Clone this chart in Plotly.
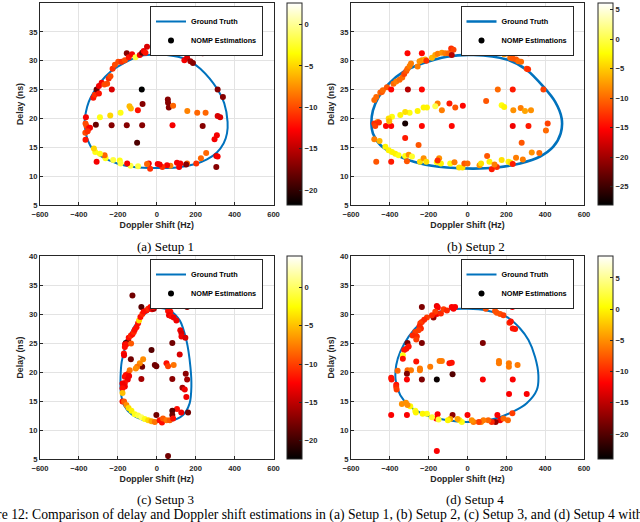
"""Delay / Doppler estimates against the ground truth trajectory for four setups."""

import plotly.graph_objects as go


# ===== Ground truth trajectories (Doppler in Hz, delay in ns) =====
GT1_DOPPLER = [0, 87, 156, 224, 313, 347, 364, 361, 344, 309, 258, 198, 104, 0, -118, -203,
               -289, -332, -354, -366, -371, -364, -349, -323, -289, -238, -169, -84, 0]
GT1_DELAY = [31.06, 30.8, 30.2, 28.6, 25.0, 22.6, 19.4, 17.4, 15.7, 14.1, 12.9, 12.1, 11.5, 11.4,
             11.6, 12.2, 13.5, 14.8, 16.2, 17.7, 19.4, 21.1, 22.9, 24.6, 26.3, 28.1, 29.6, 30.8, 31.06]

GT2_DOPPLER = [30, 202, 305, 391, 451, 485, 480, 442, 374, 271, 151, 31, -106, -243, -363,
               -449, -487, -495, -487, -458, -406, -329, -226, -106, 30]
GT2_DELAY = [31.0, 30.2, 28.4, 25.5, 22.9, 20.0, 17.4, 15.1, 13.4, 12.2, 11.5, 11.3, 11.5, 12.2,
             13.6, 15.4, 17.4, 19.1, 21.4, 23.7, 26.0, 28.1, 29.6, 30.7, 31.0]

GT3_DOPPLER = [-2, 67, 118, 152, 173, 178, 169, 135, 67, -2, -70, -130, -169, -185, -186, -180,
               -156, -121, -70, -2]
GT3_DELAY = [31.05, 30.6, 28.9, 25.5, 20.9, 17.5, 14.6, 12.6, 11.5, 11.4, 11.7, 12.7, 14.3, 16.6,
             19.2, 21.8, 24.9, 27.5, 29.8, 31.05]

GT4_DOPPLER = [0, 99, 202, 271, 314, 348, 365, 357, 305, 237, 134, 0, -106, -209, -295, -346,
               -370, -367, -346, -303, -243, -175, -89, 0]
GT4_DELAY = [30.9, 30.6, 29.5, 27.5, 25.5, 22.6, 19.5, 16.9, 14.6, 13.2, 11.9, 11.4, 11.7, 12.5,
             14.0, 16.0, 18.6, 21.2, 23.5, 26.1, 28.4, 30.0, 30.8, 30.9]


# ===== NOMP estimations: (Doppler Hz, delay ns, power dB) =====
EST1 = [
    (-313, 18.9, -18), (-366, 19.1, -10), (-361, 18.7, -10), (-367, 17.5, -10), (-366, 16.3, -12),
    (-364, 20.2, -13), (-350, 18.3, -12), (-343, 18.4, -13), (-355, 17.8, -11),
    (-326, 23.6, -12), (-318, 24.1, -11), (-309, 25.0, -18), (-297, 24.3, -12), (-297, 25.6, -13),
    (-283, 26.2, -13), (-269, 25.9, -10), (-255, 26.0, -10), (-247, 26.9, -11), (-238, 27.3, -10),
    (-231, 25.0, -14), (-227, 28.6, -11), (-215, 29.3, -10), (-198, 29.8, -10), (-181, 29.8, -11),
    (-164, 30.1, -10), (-154, 31.3, -17), (-144, 30.6, -12), (-127, 31.1, -13), (-109, 30.6, -2),
    (-87, 31.0, -13), (-75, 31.4, -18), (-67, 31.7, -13), (-58, 31.4, -12), (-50, 32.4, -14),
    (79, 32.3, -12), (99, 31.9, -12), (142, 30.1, -13), (156, 30.5, -14), (173, 29.9, -16),
    (186, 29.6, -17), (236, 31.3, -16),
    (313, 25.0, -17), (340, 23.7, -17), (313, 20.4, -14), (326, 20.2, -14), (309, 17.1, -13),
    (297, 16.4, -13), (306, 13.5, -14), (313, 13.4, -13), (306, 11.6, -17), (254, 14.0, -9),
    (227, 13.1, -9), (203, 12.2, -11),
    (156, 12.2, -9), (151, 12.0, -17), (121, 12.2, -13), (104, 12.3, -13), (115, 11.6, -13),
    (70, 11.8, -8), (53, 11.9, -13), (29, 11.6, -11), (15, 12.0, -13), (5, 12.1, -13),
    (-34, 11.3, -11), (-41, 12.2, -13), (-50, 12.1, -9), (-96, 11.7, -2), (-135, 11.8, -2),
    (-152, 12.2, -13), (-190, 12.7, -3), (-186, 12.2, -2), (-224, 12.8, -2), (-263, 13.1, -3),
    (-268, 13.6, -9), (-292, 13.9, -3), (-316, 14.2, -3), (-323, 14.8, -5), (-309, 12.5, -13),
    (-77, 25.0, -21.8), (-73, 22.5, -17), (-97, 21.4, -12), (-140, 22.1, -6), (-133, 21.7, -6),
    (-186, 21.0, -3), (-239, 20.5, -5), (-292, 20.2, -3), (57, 23.3, -17), (58, 22.7, -17),
    (62, 21.9, -17), (84, 22.2, -9), (157, 21.3, -8), (208, 21.0, -9), (251, 21.0, -9),
    (236, 18.7, -17), (81, 18.8, -13), (-75, 18.8, -17), (-154, 18.8, -17), (-232, 18.8, -17),
    (-101, 15.8, -19),
]

EST2 = [
    (-321, 19.1, -27),
    (-480, 23.2, -10), (-470, 23.7, -10), (-449, 24.5, -10), (-441, 24.6, -11), (-436, 24.9, -10),
    (-415, 25.4, -11), (-381, 26.0, -10), (-367, 26.4, -9), (-350, 26.7, -10), (-336, 27.1, -10),
    (-326, 27.7, -12), (-315, 28.2, -11), (-309, 28.6, -10), (-298, 29.1, -9), (-291, 29.5, -9),
    (-257, 29.0, -9), (-247, 29.9, -8), (-235, 30.1, -8), (-218, 30.2, -7), (-212, 30.0, -13),
    (-183, 30.5, -6), (-166, 31.0, -7), (-153, 31.2, -9), (-132, 31.4, -8), (-115, 31.3, -9),
    (-98, 31.3, -10), (-84, 32.1, -13), (-72, 31.9, -12), (-81, 31.0, -19), (-309, 31.3, -15),
    (-235, 31.3, -15),
    (189, 31.1, -8), (220, 30.5, -10), (233, 30.4, -11), (250, 30.2, -11), (262, 29.9, -10),
    (276, 29.8, -10), (305, 28.6, -12), (312, 28.5, -13), (314, 31.3, -14), (391, 25.0, -12),
    (413, 19.1, -12), (404, 17.9, -10), (370, 14.0, -10), (331, 14.1, -8),
    (-307, 25.0, -19), (-235, 25.0, -15), (-393, 25.0, -15), (-393, 18.7, -15), (-420, 18.7, -15),
    (-235, 18.7, -15), (-81, 18.7, -15), (233, 18.7, -16), (314, 18.7, -14), (233, 25.0, -14),
    (156, 25.0, -10), (96, 23.0, -11), (-24, 22.2, -15), (-63, 21.9, -11), (-93, 22.6, -14),
    (-132, 21.4, -9), (-154, 22.6, -9), (-166, 22.1, 0), (-209, 21.9, -3), (-226, 21.9, -3),
    (-257, 21.3, -3), (-298, 21.0, -2), (-321, 21.1, -4), (-346, 20.6, -3), (-389, 20.3, -2),
    (-406, 20.0, -4), (-403, 19.5, -6), (-463, 19.4, -9), (-480, 19.1, -13), (-475, 18.7, -12),
    (-456, 19.3, -13), (176, 22.3, -2), (189, 22.0, -3), (236, 21.4, -8), (274, 21.8, -9),
    (296, 21.3, -7), (327, 21.4, -8), (-321, 16.6, -14), (-252, 15.4, -11), (279, 15.8, -11),
    (-480, 16.4, -9), (-453, 16.1, -6), (-423, 15.1, -3), (-406, 14.5, -3), (-389, 14.2, -3),
    (-372, 13.9, -3), (-355, 13.6, -2), (-321, 13.5, -2), (-303, 13.7, -8), (-286, 13.4, -1),
    (-312, 12.6, -11), (-245, 12.5, -4), (-226, 13.1, -8), (-212, 12.5, -4), (-158, 12.4, -2),
    (-146, 13.1, -8), (-137, 12.2, -3), (-154, 12.7, -13), (-89, 12.2, -2), (-67, 12.4, -9),
    (-43, 11.5, -4), (-26, 11.5, -4), (-16, 12.2, -11), (0, 12.2, -10), (62, 11.9, -8),
    (70, 12.2, -4), (101, 13.5, -11), (113, 12.5, -3), (125, 11.2, -14), (151, 11.6, -13),
    (139, 12.0, -9), (176, 12.8, -4), (211, 12.5, -3), (223, 12.3, -4), (233, 12.1, -14),
    (250, 13.2, -9), (285, 12.9, -9), (-470, 12.5, -11), (-393, 12.5, -14),
]

EST3 = [
    (-159, 25.0, -22.4),
    (-125, 33.2, -18), (-79, 31.2, -19), (156, 31.2, -17), (58, 5.5, -18), (-147, 25.3, -19),
    (-163, 24.8, -13), (-27, 23.8, -19), (-10, 21.2, -18), (-2, 21.0, -18), (-133, 22.2, -18),
    (-75, 20.9, -18), (-79, 18.8, -16), (80, 25.0, -18), (80, 18.8, -17), (118, 23.0, -14),
    (149, 19.7, -17), (156, 18.7, -16), (132, 17.3, -16), (144, 17.0, -13), (152, 15.7, -13),
    (161, 13.0, -18), (126, 13.0, -13), (104, 13.6, -12), (80, 13.3, -19), (80, 12.6, -18),
    (-2, 12.6, -18),
    (50, 21.5, -12), (58, 21.0, -10), (87, 21.2, -8), (-70, 22.2, -7), (-87, 21.5, -7),
    (-101, 20.9, -8), (-108, 20.6, -7), (-139, 20.3, -8), (-147, 19.7, -9), (-159, 19.5, -12),
    (-164, 19.2, -12), (-142, 19.3, -13), (-149, 18.7, -13), (-164, 18.1, -12), (-164, 17.5, -13),
    (-176, 18.0, -13), (-176, 17.2, -12), (-176, 16.4, -5), (-176, 14.9, -12), (-168, 14.9, -9),
    (-156, 14.3, -7), (-145, 13.8, -4), (-130, 13.3, -3), (-113, 12.7, -2), (-96, 12.5, -1),
    (-79, 12.2, 0), (-62, 11.9, -2), (-44, 11.7, -4), (-27, 11.5, -6), (-10, 11.4, -8),
    (15, 11.7, -12), (27, 11.3, -12), (32, 12.0, -9), (50, 11.7, -8), (67, 11.7, -9), (84, 12.0, -12),
    (-169, 23.2, -12), (-168, 22.9, -13), (-164, 24.3, -12), (-156, 24.8, -12), (-144, 25.9, -12),
    (-133, 26.3, -11), (-125, 26.5, -12), (-118, 26.9, -11), (-113, 27.3, -12), (-104, 27.7, -12),
    (-96, 28.4, -12), (-91, 28.9, -4), (-84, 29.5, -12), (-74, 30.0, -11), (-67, 30.4, -12),
    (-53, 30.6, -12), (-44, 30.9, -11), (-32, 31.2, -12), (-24, 30.8, -13), (-15, 30.9, -16),
    (-19, 31.2, -12), (58, 30.5, -12), (70, 30.4, -12), (63, 29.8, -13), (75, 29.6, -12),
    (87, 29.4, -13), (101, 28.9, -13), (121, 27.2, -13), (127, 26.7, -14), (127, 26.1, -13),
    (147, 25.9, -14), (-132, 24.9, -9),
]

EST4 = [
    (-158, 18.7, -23.5),
    (-235, 31.2, -18), (-158, 31.4, -13), (-153, 31.1, -12), (-81, 31.2, -12), (-72, 30.9, -12),
    (-64, 31.2, -12), (-175, 29.4, -17), (-158, 30.0, -12), (-137, 30.1, -10), (-123, 30.8, -9),
    (-106, 30.6, -10), (-166, 30.4, -9), (-183, 29.8, -10), (-209, 29.4, -9), (-223, 29.0, -10),
    (-235, 28.6, -10), (-243, 28.4, -9), (-247, 27.9, -10), (-240, 27.5, -10), (-252, 27.2, -9),
    (-269, 26.9, -9), (-283, 26.3, -10), (-261, 26.1, -10), (-264, 25.6, -9), (-309, 25.0, -18),
    (-235, 25.0, -18), (79, 25.0, -18), (-303, 24.4, -11), (-315, 24.0, -11), (-326, 23.8, -11),
    (-333, 22.9, 1), (-333, 22.3, -11), (-360, 20.2, -7), (-309, 20.3, -7), (-291, 20.3, -6),
    (-312, 19.7, -18), (-312, 18.7, -12), (-264, 21.8, -11), (-245, 20.3, -6), (-245, 20.6, -6),
    (-192, 20.9, -6), (-144, 21.9, -6), (-132, 21.9, -6), (-93, 21.5, -11), (-81, 21.6, -11),
    (-77, 19.6, -20), (-235, 18.7, -18), (79, 18.7, -12), (-393, 19.0, -11), (-391, 18.7, -11),
    (-367, 17.8, -11), (-367, 17.4, -10), (-365, 17.0, -9), (162, 21.9, -6), (162, 21.5, -6),
    (213, 21.5, -6), (213, 20.9, -6), (258, 21.2, -6), (233, 18.7, -12), (214, 16.2, -12),
    (305, 16.2, -12), (231, 12.9, -9), (154, 12.6, -12), (208, 11.7, -7), (168, 11.7, -12),
    (185, 12.0, -7), (145, 11.4, -17), (125, 11.4, -10), (107, 11.7, -7), (70, 11.4, -6),
    (82, 11.7, -6), (58, 11.4, -9), (0, 12.6, -12), (31, 11.4, -6), (22, 11.7, -5), (-29, 11.4, 1),
    (-41, 11.7, 0), (-51, 11.9, -4), (-77, 12.6, -17), (-89, 11.9, -4), (-101, 11.7, 0),
    (-154, 12.7, -12), (-161, 12.0, -12), (-149, 11.8, 2), (-183, 12.2, 2), (-209, 12.8, 1),
    (-231, 12.8, 0), (-269, 13.3, 1), (-266, 13.0, 0), (-295, 14.1, 0), (-309, 14.3, -5),
    (-317, 14.7, -5), (-338, 14.5, -5), (-393, 12.6, -12), (-312, 12.6, -12), (-158, 6.4, -12),
    (231, 31.2, -12), (142, 30.5, -8), (151, 30.2, -8), (168, 30.0, -8), (185, 29.8, -9),
    (94, 30.9, -8), (216, 28.5, -10), (223, 28.7, -11), (233, 27.5, -11), (245, 27.4, -11),
]

# colour limits of each colorbar (dB)
POWER_LIMITS = [(-21.8, 2.6), (-28.1, 6.1), (-22.4, 4.1), (-24.0, 8.5)]
CAPTIONS = ["(a) Setup 1", "(b) Setup 2", "(c) Setup 3", "(d) Setup 4"]
FIG_CAPTION = ("Figure 12: Comparison of delay and Doppler shift estimations in (a) Setup 1, "
               "(b) Setup 2, (c) Setup 3, and (d) Setup 4 with")


# ===== Styling =====
W, H = 640, 522
HOT = [[0.0, "rgb(0,0,0)"], [0.375, "rgb(255,0,0)"], [0.75, "rgb(255,255,0)"], [1.0, "rgb(255,255,255)"]]
LINE_BLUE = "#0072BD"
INK = "#262626"
SANS = "Liberation Sans, Arial, sans-serif"
SERIF = "Liberation Serif, Times New Roman, serif"

# pixel boxes of each axes: (left, right, top, bottom)
BOXES = [(40, 273.5, 3, 205), (351, 584, 3, 205), (40, 273.5, 256, 459), (351, 584, 256, 459)]
CAPTION_POS = [(165, 246), (476, 246), (165, 499), (475, 499)]


def px_x(v):
    """Pixel x -> paper fraction."""
    return v / W


def px_y(v):
    """Pixel y (from top) -> paper fraction."""
    return 1 - v / H


def _axis_style(title):
    return dict(
        title=dict(text=title, font=dict(family=SANS, size=8.8, color=INK, weight="bold"), standoff=3),
        showgrid=True, gridcolor="#e3e3e3", gridwidth=1, zeroline=False,
        showline=True, mirror=True, linecolor=INK, linewidth=1,
        ticks="inside", ticklen=3, tickcolor=INK,
        tickfont=dict(family=SANS, size=7.6, color=INK, weight="bold"),
    )


fig = go.Figure()

panels = [
    (GT1_DOPPLER, GT1_DELAY, EST1),
    (GT2_DOPPLER, GT2_DELAY, EST2),
    (GT3_DOPPLER, GT3_DELAY, EST3),
    (GT4_DOPPLER, GT4_DELAY, EST4),
]

layout = {}
annotations = []

for i, (gx, gy, est) in enumerate(panels):
    n = "" if i == 0 else str(i + 1)
    left, right, top, bottom = BOXES[i]
    cmin, cmax = POWER_LIMITS[i]

    fig.add_trace(go.Scatter(
        x=gx, y=gy, mode="lines", name="Ground Truth",
        line=dict(color=LINE_BLUE, width=2.6 if i == 1 else 2, shape="spline", smoothing=0.9),
        xaxis="x" + n, yaxis="y" + n, legend="legend" + n,
    ))
    fig.add_trace(go.Scatter(
        x=[e[0] for e in est], y=[e[1] for e in est], mode="markers", name="NOMP Estimations",
        marker=dict(color=[e[2] for e in est], coloraxis="coloraxis" + n, size=6, line=dict(width=0)),
        xaxis="x" + n, yaxis="y" + n, legend="legend" + n,
    ))

    xa = _axis_style("Doppler Shift (Hz)")
    xa.update(domain=[px_x(left), px_x(right)], anchor="y" + n, range=[-600, 600], dtick=200,
              ticklabelstandoff=2)
    ya = _axis_style("Delay (ns)")
    ya.update(domain=[px_y(bottom), px_y(top)], anchor="x" + n, range=[5, 40], dtick=5)
    layout["xaxis" + n] = xa
    layout["yaxis" + n] = ya

    layout["coloraxis" + n] = dict(
        colorscale=HOT, cmin=cmin, cmax=cmax,
        colorbar=dict(
            x=px_x(right + 13.5), xanchor="left", xpad=0,
            y=px_y(top), yanchor="top", ypad=0,
            len=(bottom - top) / H, lenmode="fraction",
            thickness=15, thicknessmode="pixels",
            outlinewidth=1, outlinecolor=INK,
            tickmode="linear", tick0=0, dtick=5,
            ticks="inside", ticklen=3, tickcolor=INK,
            tickfont=dict(family=SANS, size=7.6, color=INK, weight="bold"),
        ),
    )

    layout["legend" + n] = dict(
        x=px_x(right - 10.5), xanchor="right", y=px_y(top + 3), yanchor="top",
        bgcolor="white", bordercolor=INK, borderwidth=1,
        font=dict(family=SANS, size=7.3, color="black", weight="bold"),
        itemwidth=30, tracegroupgap=0,
    )

    cx, cy = CAPTION_POS[i]
    annotations.append(dict(
        text=CAPTIONS[i], x=px_x(cx), y=px_y(cy), xref="paper", yref="paper",
        xanchor="center", yanchor="middle", showarrow=False,
        font=dict(family=SERIF, size=13, color="black"),
    ))

annotations.append(dict(
    text=FIG_CAPTION, x=px_x(-30), y=px_y(515), xref="paper", yref="paper",
    xanchor="left", yanchor="middle", showarrow=False,
    font=dict(family=SERIF, size=13.7, color="black"),
))

fig.update_layout(
    width=W, height=H,
    margin=dict(l=0, r=0, t=0, b=0),
    template="none",
    paper_bgcolor="white", plot_bgcolor="white",
    showlegend=True,
    hovermode=False,
    annotations=annotations,
    **layout,
)

# the page's default body margin would shift the whole chart by 8px
fig.write_html(
    "out.html",
    config={"displayModeBar": False},
    post_script="document.body.style.margin = '0';",
)
